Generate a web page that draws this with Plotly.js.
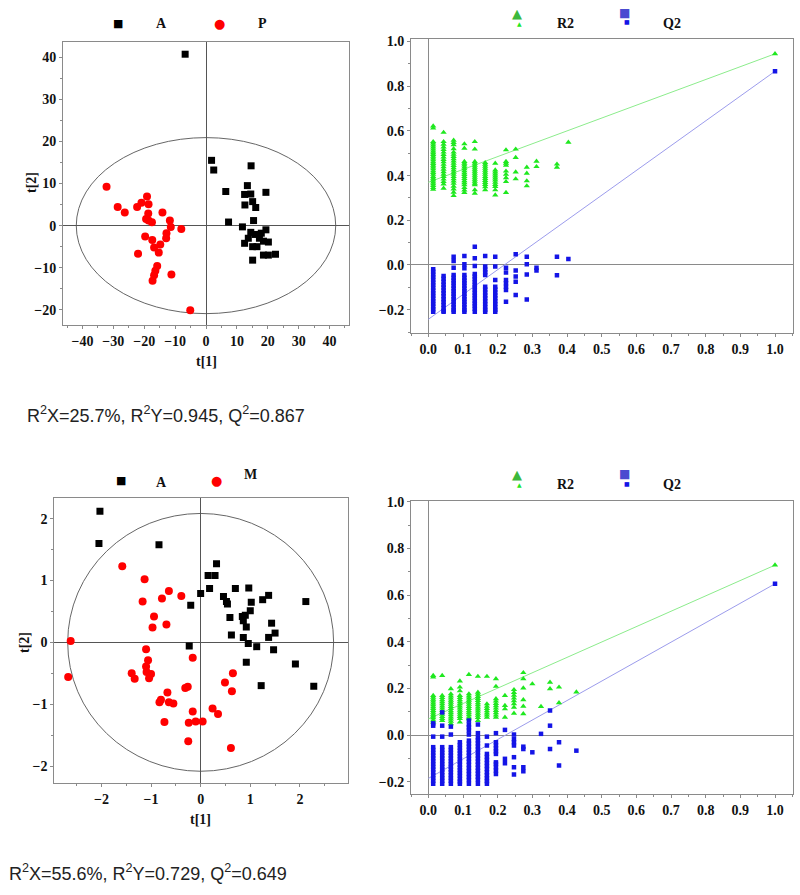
<!DOCTYPE html>
<html>
<head>
<meta charset="utf-8">
<script src="https://cdn.plot.ly/plotly-3.0.1.min.js"></script>
<style>body{margin:0;background:#fff}#chart{width:800px;height:895px}</style>
</head>
<body>
<div id="chart"></div>
<script>
// ---- score plot, A vs P ----
var a1X = [-6.75, 1.8, 2.5, 14.6, 13.4, 6.4, 12.5, 14.5, 19.4, 12.6, 15.1, 16.1, 15.4, 7.3, 11.8, 19.4, 14.5, 15.9, 17.9, 13.7, 17.3, 12.5, 20.2, 18.6, 15.1, 16.5, 18.6, 20.2, 22.5, 15.1];
var a1Y = [40.7, 15.5, 13.2, 14.2, 9.5, 8.1, 7.4, 7.5, 7.9, 4.9, 5.7, 4.3, 1.2, 0.85, -0.3, -1.0, -1.6, -2.1, -1.8, -3.0, -3.0, -4.2, -3.9, -3.7, -5.0, -5.0, -7.0, -7.0, -6.8, -8.2];
var p1X = [-32.2, -28.6, -26.3, -22.3, -20.9, -19.1, -18.6, -18.7, -19.4, -18.6, -17.5, -14.1, -11.7, -11.4, -8.0, -19.7, -17.4, -12.8, -12.9, -14.8, -16.8, -15.3, -22.0, -15.8, -16.4, -16.8, -17.3, -11.2, -5.1];
var p1Y = [9.2, 4.4, 3.1, 4.4, 5.4, 6.9, 5.1, 2.9, 1.6, 1.2, 0.8, 3.1, 1.2, -0.3, -0.8, -2.6, -3.4, -1.8, -3.0, -4.5, -5.2, -6.4, -6.7, -9.6, -10.7, -11.8, -13.1, -11.6, -20.1];
var ell1 = [42, 20.9];

// ---- permutation plot 1 ----
var perm1X = [0.014, 0.044, 0.073, 0.104, 0.134, 0.164, 0.193, 0.224, 0.252, 0.284, 0.312, 0.371, 0.404];
var perm1R2 = [
  [0.622, 0.612, 0.552, 0.545, 0.537, 0.528, 0.519, 0.510, 0.502, 0.494, 0.486, 0.478, 0.470, 0.462, 0.454, 0.446, 0.438, 0.430, 0.421, 0.413, 0.405, 0.396, 0.388, 0.380, 0.371, 0.363, 0.355, 0.346, 0.338],
  [0.593, 0.552, 0.540, 0.528, 0.516, 0.505, 0.494, 0.483, 0.472, 0.461, 0.450, 0.439, 0.428, 0.417, 0.406, 0.395, 0.384, 0.373, 0.362, 0.343],
  [0.558, 0.548, 0.538, 0.520, 0.505, 0.495, 0.485, 0.475, 0.465, 0.455, 0.445, 0.435, 0.425, 0.415, 0.405, 0.395, 0.385, 0.375, 0.365, 0.352, 0.340, 0.325, 0.310],
  [0.542, 0.522, 0.463, 0.455, 0.447, 0.438, 0.430, 0.421, 0.412, 0.404, 0.395, 0.386, 0.377, 0.368, 0.358, 0.346, 0.335, 0.324],
  [0.552, 0.518, 0.463, 0.455, 0.446, 0.437, 0.428, 0.419, 0.410, 0.401, 0.392, 0.383, 0.374, 0.365, 0.358, 0.336, 0.321],
  [0.458, 0.450, 0.441, 0.432, 0.423, 0.414, 0.405, 0.396, 0.387, 0.378, 0.369, 0.360, 0.350, 0.336],
  [0.455, 0.425, 0.416, 0.407, 0.398, 0.389, 0.380, 0.370, 0.360, 0.351, 0.336, 0.313],
  [0.515, 0.463, 0.455, 0.446, 0.420, 0.405, 0.390, 0.373, 0.324],
  [0.518, 0.481, 0.416, 0.385],
  [0.437, 0.410, 0.376, 0.354],
  [0.464, 0.440],
  [0.451, 0.437],
  [0.549]
];
var perm1Q2 = [
  [-0.019, -0.030, -0.042, -0.054, -0.066, -0.078, -0.090, -0.102, -0.114, -0.126, -0.138, -0.150, -0.162, -0.174, -0.186, -0.198, -0.209],
  [-0.049, -0.062, -0.075, -0.088, -0.101, -0.114, -0.127, -0.140, -0.153, -0.166, -0.179, -0.192, -0.205, -0.209],
  [0.037, 0.018, -0.012, -0.045, -0.057, -0.069, -0.081, -0.093, -0.105, -0.117, -0.129, -0.141, -0.153, -0.165, -0.177, -0.189, -0.201, -0.209],
  [0.040, 0.003, -0.015, -0.045, -0.057, -0.069, -0.081, -0.093, -0.105, -0.117, -0.129, -0.141, -0.153, -0.165, -0.177, -0.189, -0.201, -0.209],
  [0.082, 0.030, -0.004, -0.040, -0.052, -0.064, -0.076, -0.088, -0.100, -0.112, -0.124, -0.136, -0.148, -0.160, -0.172, -0.184, -0.196, -0.209],
  [0.040, -0.007, -0.020, -0.033, -0.045, -0.097, -0.110, -0.123, -0.136, -0.149, -0.162, -0.175, -0.188, -0.200, -0.209],
  [0.037, -0.007, -0.067, -0.097, -0.110, -0.123, -0.136, -0.149, -0.162, -0.175, -0.188, -0.200, -0.209],
  [-0.012, -0.034, -0.067, -0.082, -0.097, -0.112, -0.164],
  [0.048, -0.025, -0.052, -0.075, -0.134],
  [0.037, 0.003, -0.042, -0.154],
  [-0.012, -0.025],
  [0.037, -0.046],
  [0.027]
];
var perm1Final = [0.945, 0.867];     // R2Y, Q2 of the real model at x = 1
var perm1Icept = [0.37, -0.243];     // intercepts of the R2 and Q2 lines

// ---- score plot, A vs M ----
var a2X = [-2.03, -2.05, -0.84, 0.32, 0.15, 0.29, 0.18, 0.0, -0.20, 0.70, 0.97, 0.46, 0.52, 0.54, 1.02, 1.25, 1.37, 2.12, 0.59, 1.0, 0.84, 0.90, 0.86, 0.92, 1.43, 0.62, 0.86, 1.37, 1.50, 0.96, 1.13, 1.47, -0.23, 0.92, 1.91, 1.22, 2.28];
var a2Y = [2.12, 1.60, 1.58, 1.27, 1.08, 1.08, 0.87, 0.79, 0.60, 0.87, 0.88, 0.74, 0.66, 0.62, 0.65, 0.69, 0.76, 0.66, 0.40, 0.51, 0.42, 0.44, 0.35, 0.25, 0.31, 0.12, 0.08, 0.08, 0.15, -0.02, -0.07, -0.12, -0.06, -0.32, -0.35, -0.70, -0.71];
var m2X = [-1.58, -1.13, -1.17, -0.78, -0.64, -0.39, -0.94, -0.97, -0.69, -2.62, -2.67, -1.10, -1.06, -1.10, -1.09, -1.00, -1.04, -1.39, -1.33, -0.16, -0.26, -0.31, -0.67, -0.80, -0.83, -0.64, -0.55, -0.16, 0.24, 0.35, 0.65, 0.49, 0.63, -0.73, -0.24, -0.10, 0.04, -0.25, 0.61];
var m2Y = [1.23, 1.02, 0.66, 0.71, 0.83, 0.75, 0.42, 0.24, 0.29, 0.02, -0.56, -0.11, -0.29, -0.39, -0.48, -0.51, -0.58, -0.50, -0.59, -0.25, -0.72, -0.74, -0.81, -0.93, -0.97, -0.97, -0.99, -1.12, -1.07, -1.16, -0.50, -0.65, -0.79, -1.29, -1.30, -1.28, -1.28, -1.60, -1.71];
var ell2 = [2.68, 2.085];

// ---- permutation plot 2 ----
var perm2X = [0.014, 0.040, 0.065, 0.091, 0.117, 0.143, 0.169, 0.195, 0.221, 0.247, 0.274, 0.300, 0.325, 0.351, 0.377, 0.427];
var perm2R2 = [
  [0.256, 0.249, 0.170, 0.162, 0.154, 0.146, 0.138, 0.130, 0.122, 0.114, 0.106, 0.098, 0.090, 0.082, 0.074, 0.065, 0.056],
  [0.256, 0.170, 0.161, 0.152, 0.143, 0.134, 0.125, 0.116, 0.107, 0.098, 0.089, 0.080, 0.071, 0.063],
  [0.199, 0.177, 0.168, 0.159, 0.150, 0.141, 0.132, 0.123, 0.114, 0.105, 0.096, 0.087, 0.078, 0.069, 0.060, 0.049],
  [0.232, 0.206, 0.190, 0.170, 0.161, 0.152, 0.143, 0.134, 0.125, 0.116, 0.107, 0.098, 0.089, 0.080, 0.071, 0.056],
  [0.260, 0.177, 0.168, 0.159, 0.150, 0.141, 0.132, 0.123, 0.114, 0.105, 0.096, 0.087, 0.078, 0.070],
  [0.252, 0.184, 0.175, 0.166, 0.157, 0.148, 0.139, 0.130, 0.121, 0.112, 0.103, 0.094, 0.085, 0.076, 0.063],
  [0.252, 0.134, 0.124, 0.114, 0.104, 0.095, 0.086, 0.077],
  [0.242, 0.209, 0.156, 0.146, 0.136, 0.126, 0.116, 0.106, 0.096, 0.086, 0.077],
  [0.170, 0.127, 0.113, 0.077],
  [0.195, 0.183, 0.171, 0.159, 0.147, 0.135, 0.120, 0.094],
  [0.268, 0.242, 0.202, 0.152, 0.124, 0.092],
  [0.220],
  [0.123],
  [0.227, 0.199],
  [0.206, 0.139],
  [0.185]
];
var perm2Q2 = [
  [0.051, 0.041, -0.006, -0.051, -0.063, -0.075, -0.087, -0.099, -0.111, -0.123, -0.135, -0.147, -0.159, -0.171, -0.183, -0.195, -0.208],
  [0.098, 0.041, -0.006, -0.051, -0.063, -0.075, -0.087, -0.099, -0.111, -0.123, -0.135, -0.147, -0.159, -0.171, -0.183, -0.195, -0.208],
  [0.037, 0.003, -0.051, -0.063, -0.075, -0.087, -0.099, -0.111, -0.123, -0.135, -0.147, -0.159, -0.171, -0.183, -0.195, -0.208],
  [-0.030, -0.042, -0.054, -0.066, -0.078, -0.090, -0.102, -0.114, -0.126, -0.138, -0.150, -0.162, -0.174, -0.186, -0.198, -0.208],
  [0.063, 0.046, 0.034, 0.020, 0.003, -0.023, -0.036, -0.049, -0.062, -0.075, -0.088, -0.101, -0.114, -0.127, -0.140, -0.153, -0.166, -0.179, -0.192, -0.208],
  [0.046, 0.009, -0.009, -0.022, -0.035, -0.048, -0.061, -0.074, -0.087, -0.100, -0.113, -0.126, -0.139, -0.152, -0.165, -0.178, -0.191, -0.208],
  [-0.006, -0.044, -0.080, -0.093, -0.106, -0.119, -0.132, -0.145, -0.158, -0.171, -0.184, -0.196, -0.208],
  [0.009, -0.030, -0.043, -0.056, -0.069, -0.080, -0.116, -0.123, -0.137, -0.151, -0.166],
  [0.023, -0.101, -0.120],
  [0.003, -0.016, -0.030, -0.044, -0.094, -0.137, -0.168],
  [-0.049, -0.059, -0.137, -0.154],
  [-0.073],
  [0.006],
  [0.106, 0.041, -0.059],
  [-0.030, -0.130],
  [-0.066]
];
var perm2Final = [0.729, 0.649];
var perm2Icept = [0.07, -0.185];

var stats1 = 'R<sup>2</sup>X=25.7%, R<sup>2</sup>Y=0.945, Q<sup>2</sup>=0.867';
var stats2 = 'R<sup>2</sup>X=55.6%, R<sup>2</sup>Y=0.729, Q<sup>2</sup>=0.649';

// ---------------------------------------------------------------
var W = 800, H = 895;
function px(x) { return x / W; }
function py(y) { return 1 - y / H; }

var GREEN = '#1fe81f', GREEN_LINE = '#8cec8c';
var BLUE = '#1414e6', BLUE_LINE = '#9c9cec';

function flatten(cols, xs, finalX, finalY) {
  var x = [], y = [];
  cols.forEach(function (c, i) {
    c.forEach(function (v) { x.push(xs[i]); y.push(v); });
  });
  x.push(finalX); y.push(finalY);
  return {x: x, y: y};
}

function scoreTraces(ax, ay, bx, by, xa, ya) {
  return [
    {x: ax, y: ay, xaxis: xa, yaxis: ya, type: 'scatter', mode: 'markers',
     marker: {symbol: 'square', size: 7, color: '#000'}, showlegend: false},
    {x: bx, y: by, xaxis: xa, yaxis: ya, type: 'scatter', mode: 'markers',
     marker: {symbol: 'circle', size: 8, color: '#f00'}, showlegend: false}
  ];
}

function permTraces(xs, r2, q2, fin, icept, xa, ya) {
  var r = flatten(r2, xs, 1.0, fin[0]);
  var q = flatten(q2, xs, 1.0, fin[1]);
  return [
    {x: [0, 1], y: [icept[0], fin[0]], xaxis: xa, yaxis: ya, mode: 'lines',
     line: {color: GREEN_LINE, width: 1}, showlegend: false},
    {x: [0, 1], y: [icept[1], fin[1]], xaxis: xa, yaxis: ya, mode: 'lines',
     line: {color: BLUE_LINE, width: 1}, showlegend: false},
    {x: r.x, y: r.y, xaxis: xa, yaxis: ya, mode: 'markers',
     marker: {symbol: 'triangle-up', size: 5.5, color: GREEN}, showlegend: false},
    {x: q.x, y: q.y, xaxis: xa, yaxis: ya, mode: 'markers',
     marker: {symbol: 'square', size: 4.5, color: BLUE}, showlegend: false}
  ];
}

var data = []
  .concat(scoreTraces(a1X, a1Y, p1X, p1Y, 'x', 'y'))
  .concat(permTraces(perm1X, perm1R2, perm1Q2, perm1Final, perm1Icept, 'x2', 'y2'))
  .concat(scoreTraces(a2X, a2Y, m2X, m2Y, 'x3', 'y3'))
  .concat(permTraces(perm2X, perm2R2, perm2Q2, perm2Final, perm2Icept, 'x4', 'y4'));

var SERIF = 'Liberation Serif';

function axis(domain, range, dtick, anchor, fmt, zcol) {
  return {
    domain: domain, range: range, anchor: anchor,
    dtick: dtick, tick0: 0, tickformat: fmt,
    showgrid: false, zeroline: true, zerolinecolor: zcol, zerolinewidth: 1,
    showline: true, mirror: true, linecolor: '#8a8a8a', linewidth: 1,
    ticks: 'outside', ticklen: 3, tickcolor: '#8a8a8a',
    minor: {dtick: dtick / 2, ticks: 'outside', ticklen: 2, tickcolor: '#8a8a8a'},
    tickfont: {family: SERIF, size: 14, weight: 700, color: '#111'},
    fixedrange: true
  };
}

var layout = {
  width: W, height: H,
  margin: {l: 0, r: 0, t: 0, b: 0},
  paper_bgcolor: '#fff', plot_bgcolor: '#fff',
  showlegend: false,
  xaxis:  axis([px(63), px(349)], [-46.3, 46.3], 10, 'y', '', '#555'),
  yaxis:  axis([py(325), py(42)], [-23.6, 43.6], 10, 'x', '', '#555'),
  xaxis2: axis([px(411), px(792.7)], [-0.05, 1.051], 0.1, 'y2', '.1f', '#8a8a8a'),
  yaxis2: axis([py(332.7), py(39.3)], [-0.303, 1.01], 0.2, 'x2', '.1f', '#8a8a8a'),
  xaxis3: axis([px(54.3), px(348)], [-2.95, 2.97], 1, 'y3', '', '#555'),
  yaxis3: axis([py(782.7), py(498.3)], [-2.27, 2.33], 1, 'x3', '', '#555'),
  xaxis4: axis([px(411), px(792.7)], [-0.05, 1.051], 0.1, 'y4', '.1f', '#8a8a8a'),
  yaxis4: axis([py(794.3), py(500.7)], [-0.253, 1.005], 0.2, 'x4', '.1f', '#8a8a8a'),
  shapes: [
    {type: 'circle', xref: 'x', yref: 'y', x0: -ell1[0], x1: ell1[0], y0: -ell1[1], y1: ell1[1],
     line: {color: '#666', width: 1}, layer: 'below'},
    {type: 'circle', xref: 'x3', yref: 'y3', x0: -ell2[0], x1: ell2[0], y0: -ell2[1], y1: ell2[1],
     line: {color: '#666', width: 1}, layer: 'below'}
  ],
  annotations: []
};

function note(text, x, y, font, extra) {
  var a = {text: text, xref: 'paper', yref: 'paper', x: px(x), y: py(y),
           xanchor: 'center', yanchor: 'middle', showarrow: false, font: font};
  for (var k in extra) a[k] = extra[k];
  layout.annotations.push(a);
}

var serif = {family: SERIF, size: 14, weight: 700, color: '#111'};
var glyph = function (size, color) { return {family: 'DejaVu Sans', size: size, color: color}; };

// axis titles
note('t[1]', 206, 361, serif);
note('t[2]', 32, 183, serif, {textangle: -90});
note('t[1]', 200, 819, serif);
note('t[2]', 24, 643, serif, {textangle: -90});

// legends, score plots
note('\u25A0', 118, 23, glyph(11, '#000'));
note('A', 161, 24, serif);
note('\u25CF', 219, 23, glyph(13, '#f00'));
note('P', 262, 24, serif);
note('\u25A0', 121, 480, glyph(11, '#000'));
note('A', 161, 482, serif);
note('\u25CF', 216, 480, glyph(13, '#f00'));
note('M', 251, 474, serif);

// legends, permutation plots (large symbol stacked over the small one)
[0, 461].forEach(function (dy) {
  note('\u25B2', 517, 13 + dy, glyph(13, '#3cb83c'));
  note('\u25B2', 519, 23 + dy, glyph(6, GREEN));
  note('R2', 565, 23 + dy, serif);
  note('\u25A0', 624, 13 + dy, glyph(12, '#4a4ad0'));
  note('\u25A0', 627, 22 + dy, glyph(6, BLUE));
  note('Q2', 672, 23 + dy, serif);
});

// model statistics
var statFont = {family: 'Liberation Sans', size: 18, color: '#222'};
note(stats1, 25, 414, statFont, {xanchor: 'left'});
note(stats2, 7, 872, statFont, {xanchor: 'left'});

Plotly.newPlot('chart', data, layout, {staticPlot: true});
</script>
</body>
</html>
